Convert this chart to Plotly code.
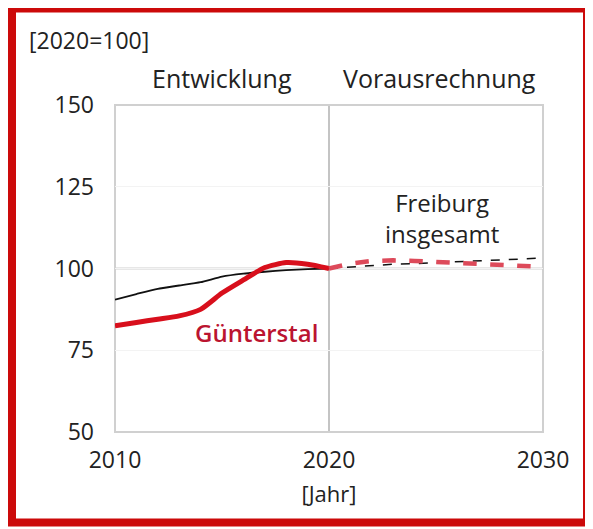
import plotly.graph_objects as go

# Data (index 2020 = 100)
years_hist = [2010, 2011, 2012, 2013, 2014, 2015, 2016, 2017, 2018, 2019, 2020]
freiburg_hist = [90.5, 92.2, 93.8, 94.8, 95.8, 97.5, 98.4, 99.0, 99.5, 99.8, 100.0]
guenterstal_hist = [82.5, 83.5, 84.5, 85.5, 87.5, 92.5, 96.5, 100.3, 101.8, 101.3, 100.0]

years_proj = [2020, 2021, 2022, 2023, 2024, 2025, 2026, 2027, 2028, 2029, 2030]
freiburg_proj = [100.0, 100.5, 101.0, 101.3, 101.5, 101.8, 102.0, 102.2, 102.5, 102.8, 103.2]
guenterstal_proj = [100.0, 101.5, 102.3, 102.5, 102.3, 102.0, 101.8, 101.5, 101.3, 101.0, 100.5]

y_ticks = [50, 75, 100, 125, 150]
x_ticks = [2010, 2020, 2030]

FONT = "Open Sans"
OFF = 8  # page body margin
W, H = 593 - OFF, 529 - OFF
L, R, T, B = 115 - OFF, 543 - OFF, 105 - OFF, 432 - OFF  # plot area in figure pixels


def px(x):
    return (x - OFF - L) / (R - L)


def py(y):
    return (B - (y - OFF)) / (B - T)


fig = go.Figure()

fig.add_trace(go.Scatter(x=years_hist, y=freiburg_hist, mode="lines",
                         line=dict(color="#111111", width=1.8, shape="spline", smoothing=0.5),
                         showlegend=False))
fig.add_trace(go.Scatter(x=years_proj, y=freiburg_proj, mode="lines",
                         line=dict(color="#111111", width=1.5, dash="dash"), showlegend=False))
fig.add_trace(go.Scatter(x=years_hist, y=guenterstal_hist, mode="lines",
                         line=dict(color="#d80f1c", width=5, shape="spline", smoothing=0.6),
                         showlegend=False))
fig.add_trace(go.Scatter(x=years_proj, y=guenterstal_proj, mode="lines",
                         line=dict(color="#dd4a5a", width=4.5, dash="dash"), showlegend=False))

shapes = [
    # 100 reference line
    dict(type="line", xref="paper", yref="y", x0=0, x1=1, y0=100, y1=100,
         line=dict(color="#a0a0a0", width=1.5), layer="below"),
    # 2020 divider
    dict(type="line", xref="x", yref="paper", x0=2020, x1=2020, y0=0, y1=1,
         line=dict(color="#c4c4c4", width=2), layer="below"),
    # plot box
    dict(type="rect", xref="paper", yref="paper", x0=0, x1=1, y0=0, y1=1,
         line=dict(color="#d0d0d0", width=2), layer="below"),
    # red frame
    dict(type="rect", xref="paper", yref="paper",
         x0=px(12), x1=px(587), y0=py(8.5), y1=py(522.5),
         line=dict(color="#cc0a0a", width=8)),
]

annotations = [
    dict(text="[2020=100]", xref="paper", yref="paper", x=px(27), y=py(40),
         xanchor="left", yanchor="middle", showarrow=False,
         font=dict(family=FONT, size=23, color="#222222")),
    dict(text="Entwicklung", xref="paper", yref="paper", x=px(222), y=py(78),
         xanchor="center", yanchor="middle", showarrow=False,
         font=dict(family=FONT, size=25, color="#222222")),
    dict(text="Vorausrechnung", xref="paper", yref="paper", x=px(439), y=py(78),
         xanchor="center", yanchor="middle", showarrow=False,
         font=dict(family=FONT, size=25, color="#222222")),
    dict(text="Freiburg<br>insgesamt", xref="paper", yref="paper", x=px(442), y=py(218),
         xanchor="center", yanchor="middle", showarrow=False,
         font=dict(family=FONT, size=24, color="#222222")),
    dict(text="Günterstal", xref="paper", yref="paper", x=px(256), y=py(332),
         xanchor="center", yanchor="middle", showarrow=False,
         font=dict(family=FONT, size=24, color="#bb1430", weight=600)),
]

fig.update_layout(
    width=W, height=H,
    margin=dict(l=L, r=W - R, t=T, b=H - B),
    paper_bgcolor="white", plot_bgcolor="white",
    shapes=shapes, annotations=annotations,
    xaxis=dict(range=[2010, 2030], tickvals=x_ticks, ticktext=[str(v) for v in x_ticks],
               showgrid=False, zeroline=False, showline=False, ticks="",
               tickfont=dict(family=FONT, size=23, color="#222222"),
               ticklabelstandoff=12,
               title=dict(text="[Jahr]", font=dict(family=FONT, size=22, color="#222222"),
                          standoff=12)),
    yaxis=dict(range=[50, 150], tickvals=y_ticks, ticktext=[str(v) for v in y_ticks],
               showgrid=True, gridcolor="#f3f3f3", gridwidth=1,
               zeroline=False, showline=False, ticks="",
               tickfont=dict(family=FONT, size=23, color="#222222"),
               ticklabelstandoff=20),
)

fig.write_html("out.html")
